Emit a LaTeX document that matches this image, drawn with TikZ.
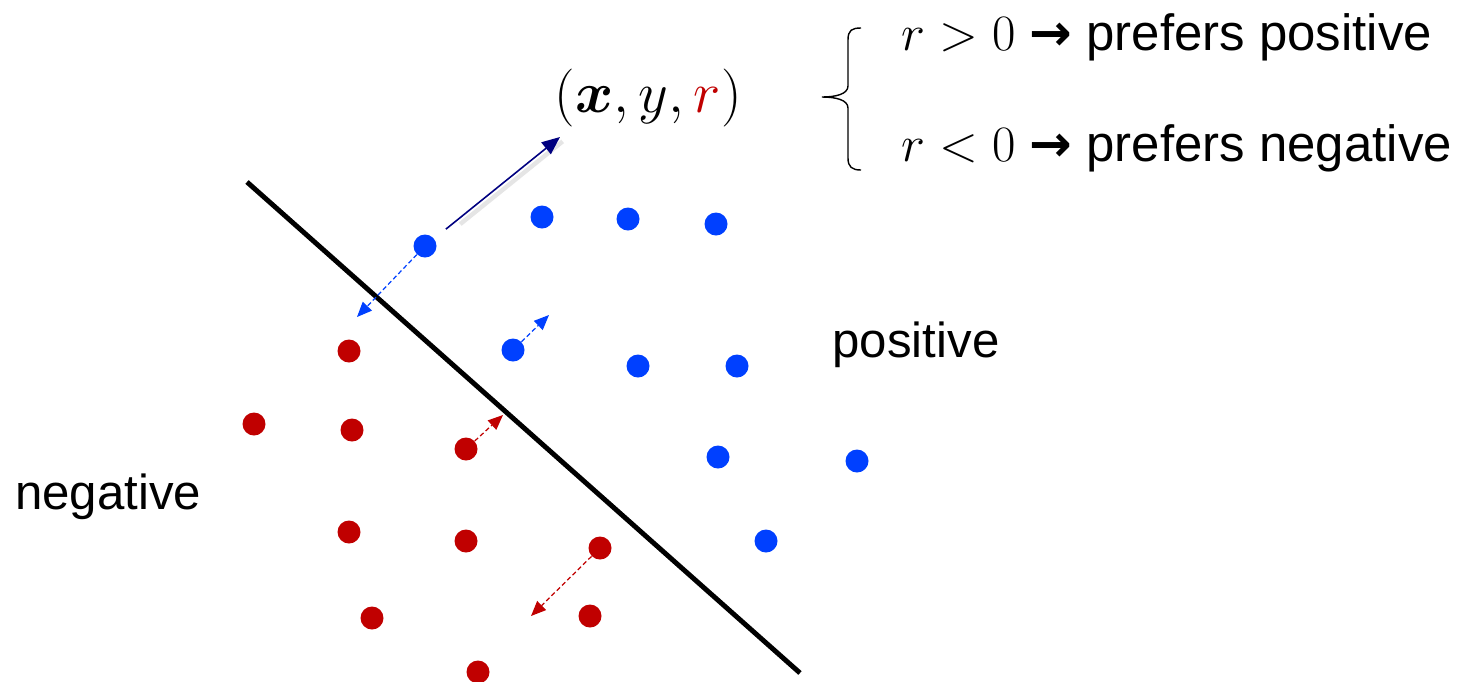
\RequirePackage{fix-cm}
\documentclass[tikz,border=0pt]{standalone}
\usepackage{amsmath,amssymb}
\usepackage{bm}
\usepackage{fontspec}
\setmainfont{Liberation Sans}
\newfontfamily\arrowfont{DejaVu Sans}
\usepackage{xcolor}
\usepackage{tikz}
\usetikzlibrary{arrows.meta,positioning,calc}

\definecolor{posblue}{RGB}{0,64,255}
\definecolor{negred}{RGB}{192,0,0}
\definecolor{dirnavy}{RGB}{0,0,128}

\tikzset{
    posdot/.style={circle, fill=posblue, inner sep=0pt, minimum size=0.46cm},
    negdot/.style={circle, fill=negred, inner sep=0pt, minimum size=0.46cm},
    pull/.style={dashed, dash pattern=on 2.6pt off 1.6pt, line width=0.7pt, -{Triangle[length=0.3cm,width=0.25cm]}},
    bigfont/.style={font=\fontsize{28}{32}\selectfont},
    casefont/.style={font=\fontsize{29}{34}\selectfont}
}

\begin{document}
\begin{tikzpicture}[x=0.02cm, y=-0.02cm]
        \useasboundingbox (0,0) rectangle (1460,681);

        % Boundary
        \coordinate (btop) at (247,182);
        \coordinate (bbot) at (800,673);
        \draw[line width=2.8pt] (btop) -- (bbot);

        % Positive points
        \node[posdot] (p1) at (425,246) {};
        \node[posdot] (p2) at (542,217) {};
        \node[posdot] (p3) at (628,219) {};
        \node[posdot] (p4) at (716,224) {};
        \node[posdot] (p5) at (513,350) {};
        \node[posdot] (p6) at (638,366) {};
        \node[posdot] (p7) at (737,366) {};
        \node[posdot] (p8) at (718,457) {};
        \node[posdot] (p9) at (857,461) {};
        \node[posdot] (p10) at (766,541) {};

        % Negative points
        \node[negdot] (n1) at (349,351) {};
        \node[negdot] (n2) at (254,424) {};
        \node[negdot] (n3) at (352,430) {};
        \node[negdot] (n4) at (466,449) {};
        \node[negdot] (n5) at (349,532) {};
        \node[negdot] (n6) at (466,541) {};
        \node[negdot] (n7) at (600,548) {};
        \node[negdot] (n8) at (372,618) {};
        \node[negdot] (n9) at (590,616) {};
        \node[negdot] (n10) at (478,672) {};

        % Class labels
        \node[bigfont] (poslab) at (916,345) {positive};
        \node[bigfont] (neglab) at (108,497) {negative};

        % Triple
        \node[font=\fontsize{33}{38}\selectfont] (triple) at (648,98) {$(\bm{x}, y, \textcolor{negred}{r})$};
        \coordinate (tripin) at (560,137);
        \draw[black!25, line width=2.5pt, opacity=0.4, transform canvas={shift={(1.5pt,-2.5pt)}}, shorten <=0.6cm] (p1) -- (tripin);
        \draw[dirnavy, line width=0.9pt, shorten <=0.3cm, -{Triangle[length=0.36cm,width=0.3cm]}] (p1) -- (tripin);

        % Preference arrows
        \coordinate (e1) at (357,317);
        \coordinate (e5) at (549,315);
        \coordinate (e4) at (503,415);
        \coordinate (e7) at (531,616);
        \draw[pull, posblue] (p1) -- (e1);
        \draw[pull, posblue] (p5) -- (e5);
        \draw[pull, negred] (n4) -- (e4);
        \draw[pull, negred] (n7) -- (e7);

        % Brace and cases
        \draw[line width=0.8pt] (861,28) .. controls (852,28) and (848,30) .. (848,40)
            -- (848,86) .. controls (848,94) and (836,97) .. (822,97)
            .. controls (836,97) and (848,100) .. (848,108)
            -- (848,158) .. controls (848,167) and (852,170) .. (861,170);
        \node[casefont, anchor=base west] (caseup) at (895,50) {$r>0$ {\arrowfont\bfseries →} prefers positive};
        \node[casefont, anchor=base west] (casedn) at (895,161) {$r<0$ {\arrowfont\bfseries →} prefers negative};
\end{tikzpicture}
\end{document}
